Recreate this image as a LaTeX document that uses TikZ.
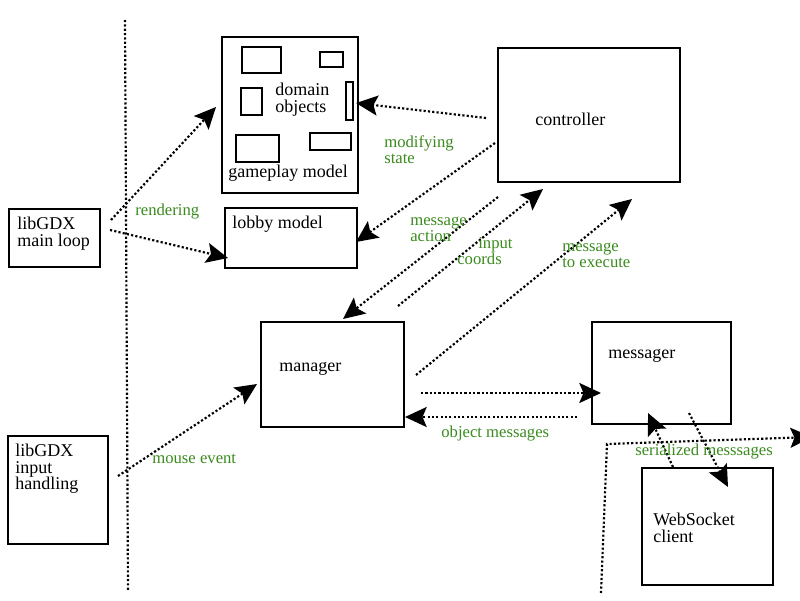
\documentclass[tikz,border=0pt]{standalone}
\usepackage{fontspec}
\setmainfont{Liberation Serif}
\usepackage{xcolor}
\usetikzlibrary{arrows.meta}
\definecolor{ink}{HTML}{000000}
\definecolor{grn}{HTML}{3A8A1E}
\tikzset{
  box/.style={draw=ink, line width=1.3pt, inner sep=0pt, outer sep=0pt, anchor=north west},
  objbox/.style={draw=ink, line width=1.2pt},
  txt/.style={inner sep=0pt, font=\fontsize{10.8}{9.8}\selectfont, text=ink, align=left},
  lbl/.style={txt, font=\fontsize{10}{9.6}\selectfont, text=grn},
  dots/.style={line width=1.3pt, dash pattern=on 1.3pt off 1.3pt, draw=ink},
  flow/.style={dots, -{Stealth[length=13pt, width=12pt, inset=2.5pt]}}
}
\newcommand{\DrawBox}[5]{% name,x1,y1,x2,y2 (px)
  \node[box, minimum width={(#4-#2)*0.6pt}, minimum height={(#5-#3)*0.6pt}] (#1) at (#2,#3) {};
}

\begin{document}
\begin{tikzpicture}[x=0.6pt, y=-0.6pt]
  \useasboundingbox (0,0) rectangle (800,600);
  % boxes
  \DrawBox{mainloop}{9}{209}{100}{267}
  \DrawBox{inputh}{8}{436}{108}{544}
  \DrawBox{gameplay}{222}{37}{358}{193}
  \DrawBox{lobby}{225}{208}{357}{268}
  \DrawBox{ctrl}{498}{48}{680}{182}
  \DrawBox{manager}{261}{322}{404}{427}
  \DrawBox{messager}{592}{322}{731}{424}
  \DrawBox{wsclient}{642}{468}{773}{585}
  % domain objects inside the gameplay model
  \foreach \xa/\ya/\xb/\yb in {242/47/281/73, 320/52/343/67, 241/88/262/115,
      346/82/353/120, 236/135/279/162, 310/133/351/150}
    \draw[objbox] (\xa,\ya) rectangle (\xb,\yb);
  % texts in the boxes
  \node[txt, anchor=north west] (t-mainloop) at (17,217) {libGDX\\main loop};
  \node[txt, anchor=north west] (t-inputh) at (15,444) {libGDX\\input\\handling};
  \node[txt, anchor=north west] (t-domain) at (275,83) {domain\\objects};
  \node[txt, anchor=base west] (t-gameplay) at (228,177) {gameplay model};
  \node[txt, anchor=base west] (t-lobby) at (232,228) {lobby model};
  \node[txt, anchor=base west] (t-ctrl) at (535,125) {controller};
  \node[txt, anchor=base west] (t-manager) at (279,371) {manager};
  \node[txt, anchor=base west] (t-messager) at (608,358) {messager};
  \node[txt, anchor=north west] (t-ws) at (653,513) {WebSocket\\client};
  % boundaries
  \coordinate (div-top) at (125,20);
  \coordinate (div-bot) at (128,590);
  \draw[dots] (div-top) -- (div-bot);
  \coordinate (net-bot) at (601,593);
  \coordinate (net-corner) at (607,444);
  \coordinate (net-end) at (812,437);
  \draw[flow] (net-bot) -- (net-corner) -- (net-end);
  % arrow ends
  \coordinate (r1s) at (111,220);  \coordinate (r1e) at (216,107);
  \coordinate (r2s) at (110,230);  \coordinate (r2e) at (228,258);
  \coordinate (m1s) at (486,118);  \coordinate (m1e) at (356,103);
  \coordinate (m2s) at (495,143);  \coordinate (m2e) at (356,242);
  \coordinate (mas) at (498,197);  \coordinate (mae) at (343,319);
  \coordinate (ics) at (398,306);  \coordinate (ice) at (543,189);
  \coordinate (tes) at (416,375);  \coordinate (tee) at (632,199);
  \coordinate (mes) at (118,476);  \coordinate (mee) at (257,384);
  \coordinate (oms) at (421,393);  \coordinate (ome) at (601,393);
  \coordinate (obs) at (577,417);  \coordinate (obe) at (405,417);
  \coordinate (wus) at (673,467);  \coordinate (wue) at (648,413);
  \coordinate (wds) at (689,413);  \coordinate (wde) at (728,487);
  % connectors
  \draw[flow] (r1s) -- (r1e);
  \draw[flow] (r2s) -- (r2e);
  \draw[flow] (m1s) -- (m1e);
  \draw[flow] (m2s) -- (m2e);
  \draw[flow] (mas) -- (mae);
  \draw[flow] (ics) -- (ice);
  \draw[flow] (tes) -- (tee);
  \draw[flow] (mes) -- (mee);
  \draw[flow] (oms) -- (ome);
  \draw[flow] (obs) -- (obe);
  \draw[flow] (wus) -- (wue);
  \draw[flow] (wds) -- (wde);
  % labels
  \node[lbl, anchor=base west] (l-render) at (135,215) {rendering};
  \node[lbl, anchor=north west] (l-modify) at (384,135) {modifying\\state};
  \node[lbl, anchor=north west] (l-action) at (410,217) {message\\action};
  \node[lbl, anchor=north west] (l-coords) at (457,237) {\hspace*{12.6pt}input\\coords};
  \node[lbl, anchor=north west] (l-exec) at (562,243) {message\\to execute};
  \node[lbl, anchor=base west] (l-mouse) at (152,463) {mouse event};
  \node[lbl, anchor=base west] (l-objmsg) at (441,437) {object messages};
  \node[lbl, anchor=base west] (l-serial) at (635,455) {serialized messsages};
\end{tikzpicture}
\end{document}
